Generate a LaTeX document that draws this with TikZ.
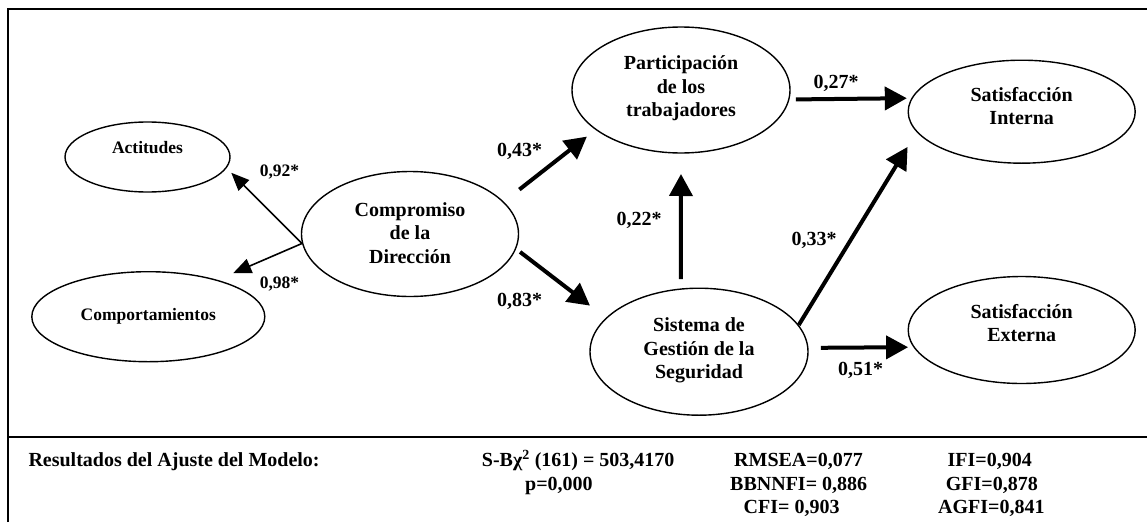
\documentclass[tikz,border=0pt]{standalone}
\usepackage{fontspec}
\setmainfont{Liberation Serif}
\usetikzlibrary{arrows.meta,shapes.geometric}
\begin{document}
\begin{tikzpicture}[x=1pt,y=-1pt,
  ell/.style={draw,ellipse,line width=1.4pt,inner sep=0pt},
  ovalbig/.style={font=\fontsize{20}{23.4}\selectfont\bfseries,align=center,inner sep=0pt},
  ovalsmall/.style={font=\fontsize{17.5}{20}\selectfont\bfseries,align=center,inner sep=0pt},
  blab/.style={font=\fontsize{20}{24}\selectfont\bfseries,inner sep=0pt},
  slab/.style={font=\fontsize{17.5}{20}\selectfont\bfseries,inner sep=0pt},
  thickarrow/.style={line width=4pt,-{Triangle[length=22pt,width=23pt]}},
  thinarrow/.style={line width=1.6pt,-{Triangle[length=18pt,width=15pt]}},
  resl/.style={font=\fontsize{20}{24}\selectfont\bfseries,inner sep=0pt,anchor=base west},
  boxline/.style={line width=2pt}
]
\useasboundingbox (0,0) rectangle (1147,522);
% frame
\draw[boxline] (8.3,522) -- (8.3,9.3) -- (1147,9.3);
\draw[boxline] (8.3,436.7) -- (1147,436.7);
% ellipses
\node[ell,minimum width=165pt,minimum height=70pt] (act) at (147.5,157) {};
\node[ell,minimum width=233pt,minimum height=90pt] (cpt) at (148.3,316.7) {};
\node[ell,minimum width=217pt,minimum height=125pt] (comp) at (410,234) {};
\node[ell,minimum width=218pt,minimum height=126pt] (part) at (681,90) {};
\node[ell,minimum width=218pt,minimum height=127pt] (sis) at (699,351.7) {};
\node[ell,minimum width=227pt,minimum height=103pt] (si) at (1021.7,111.7) {};
\node[ell,minimum width=227pt,minimum height=107pt] (se) at (1021.7,330) {};
% texts
\node[ovalsmall] (actt) at (147.5,148) {Actitudes};
\node[ovalsmall] (cptt) at (148.3,316) {Comportamientos};
\node[ovalbig] (compt) at (410,233) {Compromiso\\de la\\Dirección};
\node[ovalbig] (partt) at (681,88.5) {Participación\\de los\\trabajadores};
\node[ovalbig] (sist) at (699,350.5) {Sistema de\\Gestión de la\\Seguridad};
\node[ovalbig] (sit) at (1021.7,105.8) {Satisfacción\\Interna};
\node[ovalbig] (set) at (1021.7,323) {Satisfacción\\Externa};
% arrows
\draw[thinarrow,shorten >=6.6pt] (comp.185) -- (act.-8.6);
\draw[thinarrow,shorten >=17pt] (comp.185) -- (cpt.28.1);
\draw[thickarrow,shorten <=19.7pt,shorten >=10.9pt] (comp.19.1) -- (part.205.5);
\draw[thickarrow,shorten <=5pt,shorten >=20pt] (comp.-8.9) -- (sis.160.4);
\draw[thickarrow,shorten <=9.3pt,shorten >=20.3pt] (sis.106.3) -- (part.270);
\draw[thickarrow,shorten <=6.4pt,shorten >=4.6pt] (part.-5.3) -- (si.173.95);
\draw[thickarrow,shorten >=17.3pt] (sis.15.3) -- (si.191);
\draw[thickarrow,shorten <=12.3pt,shorten >=5.3pt] (sis.2.5) -- (se.189);
% labels
\node[slab] (l92) at (279.5,171.7) {0,92*};
\node[slab] (l98) at (279.5,284) {0,98*};
\node[blab] (l43) at (519.5,151.7) {0,43*};
\node[blab] (l83) at (519.5,301.7) {0,83*};
\node[blab] (l22) at (639,220) {0,22*};
\node[blab] (l27) at (836,83.3) {0,27*};
\node[blab] (l33) at (814,240) {0,33*};
\node[blab] (l51) at (860.5,370) {0,51*};
% fit results
\node[resl] (r0) at (28.3,466.8) {Resultados del Ajuste del Modelo:};
\node[resl] (r1) at (481.7,466.8) {S-Bχ\textsuperscript{2} (161) = 503,4170};
\node[resl] (r2) at (525,490.1) {p=0,000};
\node[resl] (r3) at (734,466.8) {RMSEA=0,077};
\node[resl] (r4) at (730,490.1) {BBNNFI= 0,886};
\node[resl] (r5) at (743.5,513.5) {CFI= 0,903};
\node[resl] (r6) at (947.5,466.8) {IFI=0,904};
\node[resl] (r7) at (945.6,490.1) {GFI=0,878};
\node[resl] (r8) at (938,513.5) {AGFI=0,841};
\end{tikzpicture}
\end{document}
